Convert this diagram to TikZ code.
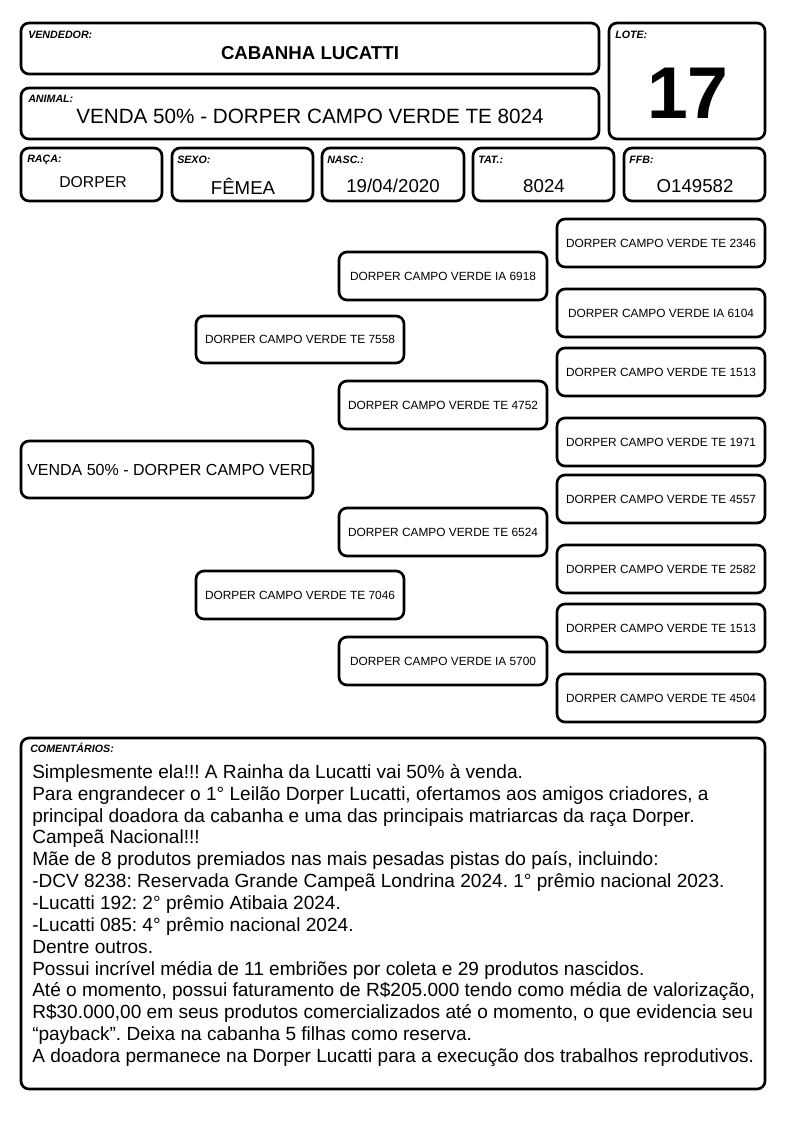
\documentclass[tikz,border=0pt]{standalone}
\usepackage{fontspec}
\setmainfont{Liberation Sans}
\usetikzlibrary{fit}
\frenchspacing
\tikzset{
  card/.style={draw, line width=2pt, rounded corners=6pt, inner sep=0pt},
  lbl/.style={anchor=west, inner sep=0pt, font=\fontsize{8}{9}\selectfont\bfseries\itshape},
  val/.style={inner sep=0pt, font=\fontsize{14}{16}\selectfont},
  ped/.style={inner sep=0pt, font=\fontsize{8.9}{10}\selectfont},
}
\begin{document}
\begin{tikzpicture}[x=0.75pt,y=-0.75pt]
\useasboundingbox (0,0) rectangle (794,1123);
\fill[white] (0,0) rectangle (794,1123);
% header
\node[card, fit={(21,23) (599,74)}] (vend) {};
\node[lbl] (vendl) at (28,35) {VENDEDOR:};
\node[inner sep=0pt, font=\fontsize{14}{16}\selectfont\bfseries] (vendv) at (310,53) {CABANHA LUCATTI};
\node[card, fit={(21,88) (599,139)}] (anim) {};
\node[lbl] (animl) at (28,99) {ANIMAL:};
\node[inner sep=0pt, font=\fontsize{15.5}{17}\selectfont] (animv) at (310,116) {VENDA 50\% - DORPER CAMPO VERDE TE 8024};
\node[card, fit={(609,23) (765,139)}] (lote) {};
\node[lbl] (lotel) at (615,35) {LOTE:};
\node[inner sep=0pt, font=\fontsize{55}{58}\selectfont\bfseries] (lotev) at (688,93) {17};
% data row
\node[card, fit={(21,148) (162,201)}] (raca) {};
\node[lbl] (racal) at (27,160) {RAÇA:};
\node[val, font=\fontsize{11.8}{14}\selectfont] (racav) at (93,182) {DORPER};
\node[card, fit={(172,148) (313,201)}] (sexo) {};
\node[lbl] (sexol) at (177,160) {SEXO:};
\node[val] (sexov) at (243,186) {FÊMEA};
\node[card, fit={(322,148) (464,201)}] (nasc) {};
\node[lbl] (nascl) at (327,160) {NASC.:};
\node[val] (nascv) at (393,186) {19/04/2020};
\node[card, fit={(473,148) (614,201)}] (tat) {};
\node[lbl] (tatl) at (478,160) {TAT.:};
\node[val] (tatv) at (544,186) {8024};
\node[card, fit={(624,148) (765,201)}] (ffb) {};
\node[lbl] (ffbl) at (629,160) {FFB:};
\node[val] (ffbv) at (695,186) {O149582};
% pedigree
\begin{scope}
\clip (22,442) rectangle (312,497);
\node[anchor=west, inner sep=0pt, font=\fontsize{12}{14}\selectfont] (p0t) at (27,470) {VENDA 50\% - DORPER CAMPO VERDE TE 8024};
\end{scope}
\node[card, fit={(21,441) (313,498)}] (p0) {};
\node[card, fit={(196,316) (404,363)}] (p1) {};
\node[ped] at (p1.center) {DORPER CAMPO VERDE TE 7558};
\node[card, fit={(196,571) (404,619)}] (p2) {};
\node[ped] at (p2.center) {DORPER CAMPO VERDE TE 7046};
\node[card, fit={(339,252) (547,300)}] (p3) {};
\node[ped] at (p3.center) {DORPER CAMPO VERDE IA 6918};
\node[card, fit={(339,381) (547,429)}] (p4) {};
\node[ped] at (p4.center) {DORPER CAMPO VERDE TE 4752};
\node[card, fit={(339,508) (547,556)}] (p5) {};
\node[ped] at (p5.center) {DORPER CAMPO VERDE TE 6524};
\node[card, fit={(339,637) (547,685)}] (p6) {};
\node[ped] at (p6.center) {DORPER CAMPO VERDE IA 5700};
\node[card, fit={(557,219) (765,267)}] (p7) {};
\node[ped] at (p7.center) {DORPER CAMPO VERDE TE 2346};
\node[card, fit={(557,289) (765,337)}] (p8) {};
\node[ped] at (p8.center) {DORPER CAMPO VERDE IA 6104};
\node[card, fit={(557,348) (765,396)}] (p9) {};
\node[ped] at (p9.center) {DORPER CAMPO VERDE TE 1513};
\node[card, fit={(557,418) (765,466)}] (p10) {};
\node[ped] at (p10.center) {DORPER CAMPO VERDE TE 1971};
\node[card, fit={(557,475) (765,523)}] (p11) {};
\node[ped] at (p11.center) {DORPER CAMPO VERDE TE 4557};
\node[card, fit={(557,545) (765,593)}] (p12) {};
\node[ped] at (p12.center) {DORPER CAMPO VERDE TE 2582};
\node[card, fit={(557,604) (765,652)}] (p13) {};
\node[ped] at (p13.center) {DORPER CAMPO VERDE TE 1513};
\node[card, fit={(557,674) (765,722)}] (p14) {};
\node[ped] at (p14.center) {DORPER CAMPO VERDE TE 4504};
% comments
\node[card, fit={(21,738) (765,1089)}] (com) {};
\node[lbl] (coml) at (30,748) {COMENTÁRIOS:};
\node[anchor=north west, inner sep=0pt, align=left, font=\fontsize{14.3}{16.4}\selectfont] (comt) at (32,764) {%
Simplesmente ela!!! A Rainha da Lucatti vai 50\% à venda.\\
Para engrandecer o 1° Leilão Dorper Lucatti, ofertamos aos amigos criadores, a\\
principal doadora da cabanha e uma das principais matriarcas da raça Dorper.\\
Campeã Nacional!!!\\
Mãe de 8 produtos premiados nas mais pesadas pistas do país, incluindo:\\
-DCV 8238: Reservada Grande Campeã Londrina 2024. 1° prêmio nacional 2023.\\
-Lucatti 192: 2° prêmio Atibaia 2024.\\
-Lucatti 085: 4° prêmio nacional 2024.\\
Dentre outros.\\
Possui incrível média de 11 embriões por coleta e 29 produtos nascidos.\\
Até o momento, possui faturamento de R\$205.000 tendo como média de valorização,\\
R\$30.000,00 em seus produtos comercializados até o momento, o que evidencia seu\\
“payback”. Deixa na cabanha 5 filhas como reserva.\\
A doadora permanece na Dorper Lucatti para a execução dos trabalhos reprodutivos.};
\end{tikzpicture}
\end{document}
